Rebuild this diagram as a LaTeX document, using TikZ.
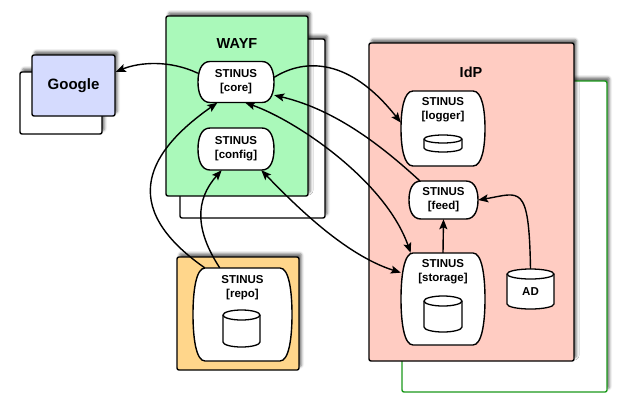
\documentclass[tikz,border=0pt]{standalone}
\usepackage{fontspec}
\setmainfont{Liberation Sans}
\usetikzlibrary{arrows.meta,shadows.blur,calc}
\definecolor{wayfgreen}{HTML}{AAF9BA}
\definecolor{idppink}{HTML}{FFCCC2}
\definecolor{googleblue}{HTML}{D5DBFE}
\definecolor{repoorange}{HTML}{FFD68B}
\definecolor{idpborder}{HTML}{1B991B}
\tikzset{
  cont/.style={draw=black, line width=1.4pt, rounded corners=2pt, inner sep=0pt,
    blur shadow={shadow xshift=2.5pt, shadow yshift=3.5pt, shadow blur radius=2.5pt, shadow opacity=55}},
  barrelst/.style={draw=black, line width=1.4pt, fill=white},
  cylst/.style={draw=black, line width=1.3pt, fill=white},
  lbl/.style={align=center, font=\fontsize{11.5}{14}\selectfont\bfseries, inner sep=0pt},
  title/.style={font=\fontsize{14.5}{16}\selectfont\bfseries, inner sep=0pt},
  conn/.style={line width=1.4pt, -{Stealth[length=10pt,width=8pt,inset=2pt]}},
  bconn/.style={line width=1.4pt, {Stealth[length=10pt,width=8pt,inset=2pt]}-{Stealth[length=10pt,width=8pt,inset=2pt]}}
}
\newcommand\barrelat[5]{%
 \pgfmathsetmacro\bxl{#2-#4/2}\pgfmathsetmacro\bxr{#2+#4/2}%
 \pgfmathsetmacro\byt{#3-#5/2}\pgfmathsetmacro\byb{#3+#5/2}%
 \pgfmathsetmacro\bch{#5/4}%
 \draw[barrelst] ({\bxl+12},{\byt}) -- ({\bxr-12},{\byt})
   .. controls ({\bxr-3},{\byt}) and ({\bxr},{#3-\bch}) .. ({\bxr},{#3})
   .. controls ({\bxr},{#3+\bch}) and ({\bxr-3},{\byb}) .. ({\bxr-12},{\byb})
   -- ({\bxl+12},{\byb})
   .. controls ({\bxl+3},{\byb}) and ({\bxl},{#3+\bch}) .. ({\bxl},{#3})
   .. controls ({\bxl},{#3-\bch}) and ({\bxl+3},{\byt}) .. cycle;
 \node[inner sep=0pt, minimum width=#4pt, minimum height=#5pt] (#1) at (#2,#3) {};}
\newcommand\cylat[5]{% cx, top, bot, rx, ry
 \draw[cylst] ({#1-#4},{#2+#5}) -- ({#1-#4},{#3-#5})
   arc[start angle=180, end angle=0, x radius=#4, y radius=#5]
   -- ({#1+#4},{#2+#5})
   arc[start angle=0, end angle=-180, x radius=#4, y radius=#5] -- cycle;
 \draw[line width=1.3pt] ({#1-#4},{#2+#5}) arc[start angle=180, end angle=0, x radius=#4, y radius=#5];}
\begin{document}
\begin{tikzpicture}[x=1pt, y=1pt, yscale=-1]
\useasboundingbox (0,0) rectangle (627,416);
% Google
\node[cont, fill=white, minimum width=82pt, minimum height=62pt] (googleback) at (61,103) {};
\node[cont, fill=googleblue, minimum width=83pt, minimum height=61pt, font=\fontsize{15}{17}\selectfont\bfseries] (google) at (73.5,85.5) {Google};
% WAYF
\node[cont, fill=white, minimum width=145pt, minimum height=179pt] (wayfback) at (252.5,128.5) {};
\node[cont, fill=wayfgreen, minimum width=142pt, minimum height=180pt] (wayf) at (237,106) {};
\node[title] (wayft) at (237,44) {WAYF};
% IdP
\node[cont, draw=idpborder, fill=white, minimum width=205pt, minimum height=311pt] (idpback) at (504.5,236.5) {};
\node[cont, fill=idppink, minimum width=205pt, minimum height=318pt] (idp) at (471.5,202) {};
\node[title] (idpt) at (471,72) {IdP};
% repo box
\node[cont, fill=repoorange, minimum width=122pt, minimum height=113pt] (repobox) at (238,313.5) {};
% STINUS nodes
\barrelat{core}{236}{82}{76}{41}
\node[lbl] (corel) at (236,82) {STINUS\\{[core]}};
\barrelat{config}{236}{149}{76}{42}
\node[lbl] (configl) at (236,149) {STINUS\\{[config]}};
\barrelat{logger}{443}{128.5}{84}{75}
\node[lbl] (loggerl) at (443,110) {STINUS\\{[logger]}};
\cylat{443}{135}{152}{19}{4}
\barrelat{feed}{443.5}{200}{69}{38}
\node[lbl] (feedl) at (443.5,200) {STINUS\\{[feed]}};
\barrelat{storage}{443}{299}{84}{92}
\node[lbl] (storagel) at (443,272) {STINUS\\{[storage]}};
\cylat{443}{296}{332}{19}{5}
\barrelat{repo}{242.5}{314.5}{99}{93}
\node[lbl] (repol) at (242.5,287.5) {STINUS\\{[repo]}};
\cylat{241.5}{310}{347}{18.5}{5}
% AD
\node[inner sep=0pt, minimum width=47pt, minimum height=40pt] (ad) at (530.5,289) {};
\cylat{530.5}{269}{309}{23.5}{5}
\node[lbl] (adl) at (530.5,292) {AD};
% connectors
\draw[conn] (core.167) .. controls (170,60) and (140,62) .. (google.18);
\draw[conn] (core.7) .. controls (305,58) and (350,58) .. (logger.172);
\draw[conn] (feed.141) .. controls (384,148) and (337,110) .. (core.-19);
\draw[bconn] (core.-66) .. controls (295,120) and (385,180) .. (storage.125);
\draw[bconn] (config.-40) .. controls (295,205) and (345,255) .. (storage.148);
\draw[conn] (storage.north) -- (feed.south);
\draw[conn] (ad.north) .. controls (529,182) and (520,193) .. (feed.east);
\draw[conn] (repo.129) .. controls (115,205) and (150,150) .. (core.-132);
\draw[conn] (repo.116) .. controls (195,230) and (195,200) .. (config.-124);
\end{tikzpicture}
\end{document}
